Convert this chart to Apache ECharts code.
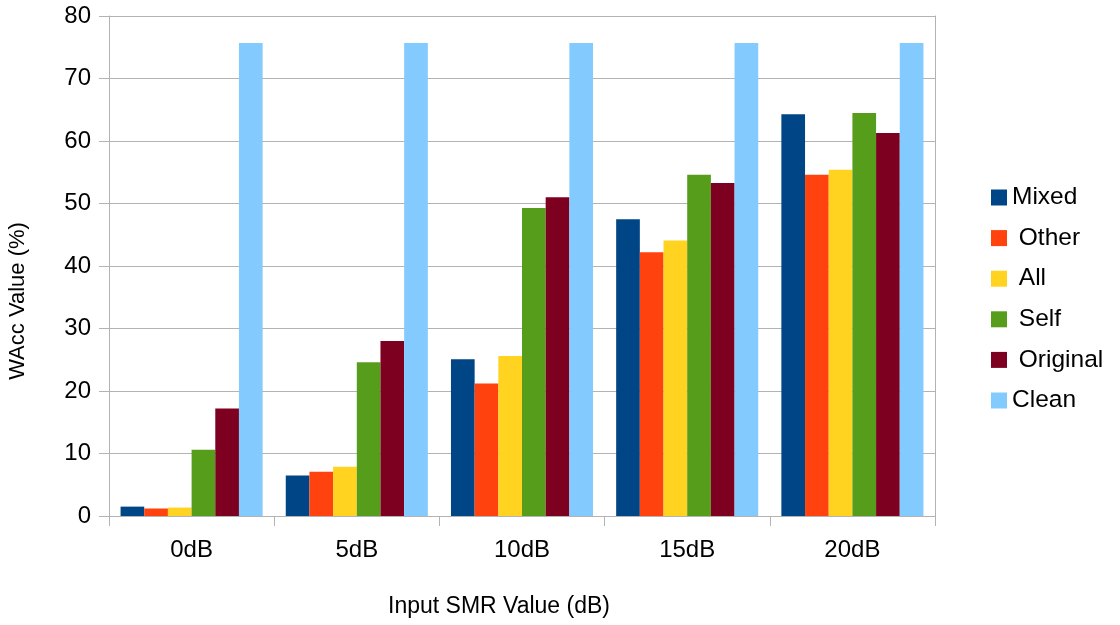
<!DOCTYPE html>
<html>
<head>
<meta charset="utf-8">
<script src="https://cdn.jsdelivr.net/npm/echarts@6/dist/echarts.min.js"></script>
<style>html,body{margin:0;padding:0;background:#fff}#c{width:1120px;height:625px}</style>
</head>
<body>
<div id="c"></div>
<script>
const categories = ['0dB', '5dB', '10dB', '15dB', '20dB'];
const seriesNames = ['Mixed', ' Other', ' All', ' Self', ' Original', 'Clean'];
const mixed = [1.5, 6.5, 25.1, 47.5, 64.3];
const other = [1.2, 7.1, 21.2, 42.2, 54.6];
const all = [1.35, 7.9, 25.6, 44.1, 55.4];
const self = [10.6, 24.6, 49.3, 54.6, 64.5];
const original = [17.2, 28.0, 51.0, 53.3, 61.3];
const clean = [75.7, 75.7, 75.7, 75.7, 75.7];
const yTicks = [0, 10, 20, 30, 40, 50, 60, 70, 80];
const colors = ['#004586', '#ff420e', '#ffd320', '#579d1c', '#7e0021', '#83caff'];
const values = [mixed, other, all, self, original, clean];

const font = 'Liberation Sans, Arial, sans-serif';
const chart = echarts.init(document.getElementById('c'), null, {renderer: 'canvas'});
chart.setOption({
  animation: false,
  textStyle: {fontFamily: font},
  color: colors,
  grid: {left: 109, right: 185, top: 16, bottom: 109, containLabel: false, outerBoundsMode: 'none'},
  legend: {
    orient: 'vertical', left: 986, top: 180, itemGap: 15.6,
    itemWidth: 16, itemHeight: 16, icon: 'rect',
    textStyle: {fontSize: 24.5, color: '#000', fontFamily: font},
    data: seriesNames
  },
  xAxis: {
    type: 'category', data: categories,
    name: 'Input SMR Value (dB)', nameLocation: 'middle', nameGap: 79,
    nameTextStyle: {fontSize: 23, color: '#000', fontFamily: font, padding: [0, 46, 0, 0]},
    axisLine: {show: true, lineStyle: {color: '#b3b3b3', width: 1}},
    axisTick: {show: true, length: 10, interval: 0, lineStyle: {color: '#b3b3b3'}},
    axisLabel: {fontSize: 24, color: '#000', margin: 22, fontFamily: font},
    splitLine: {show: false}
  },
  yAxis: [{
    type: 'value', min: yTicks[0], max: yTicks[yTicks.length - 1], interval: 10,
    name: 'WAcc Value (%)', nameLocation: 'middle', nameGap: 80, nameRotate: 90,
    nameTextStyle: {fontSize: 22, color: '#000', fontFamily: font, padding: [0, 70, 0, 0]},
    axisLine: {show: true, lineStyle: {color: '#b3b3b3', width: 1}},
    axisTick: {show: true, length: 10, lineStyle: {color: '#b3b3b3'}},
    axisLabel: {fontSize: 24, color: '#000', margin: 18, fontFamily: font},
    splitLine: {show: true, lineStyle: {color: '#b3b3b3', width: 1}}
  }, {
    type: 'value', min: yTicks[0], max: yTicks[yTicks.length - 1], interval: 10, position: 'right',
    axisLine: {show: true, lineStyle: {color: '#b3b3b3', width: 1}},
    axisTick: {show: false}, axisLabel: {show: false}, splitLine: {show: false}
  }],
  series: values.map((v, i) => ({
    name: seriesNames[i], type: 'bar', data: v,
    barGap: '0%', barCategoryGap: '14%',
    itemStyle: {color: colors[i]}
  }))
});
</script>
</body>
</html>
